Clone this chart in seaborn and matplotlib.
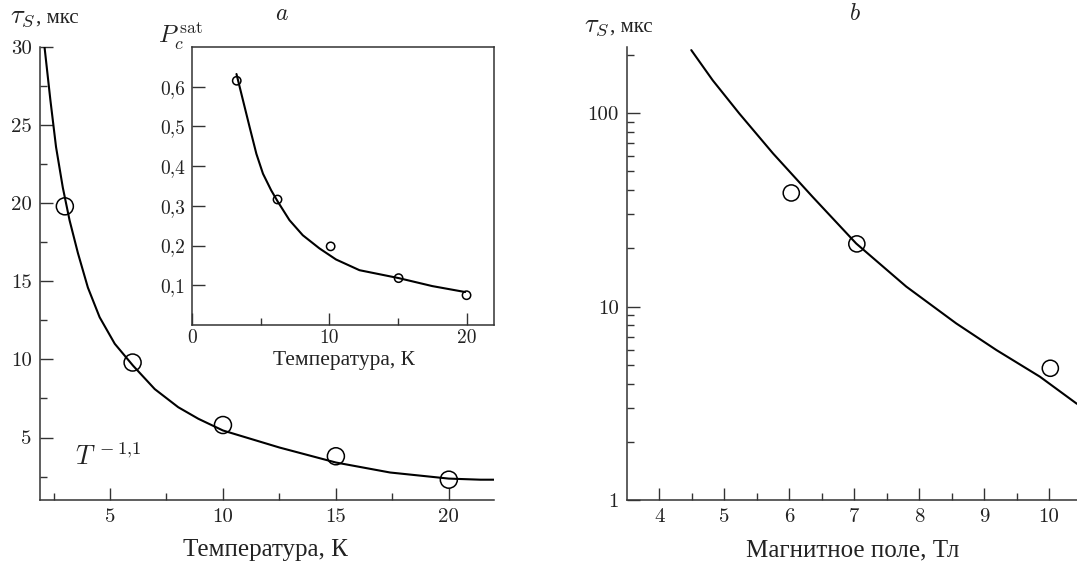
import matplotlib
matplotlib.use("Agg")
import matplotlib.pyplot as plt
import seaborn as sns
import numpy as np
import pandas as pd
from matplotlib.ticker import FixedLocator, NullFormatter

# ---------------- data ----------------
# panel a, main: spin relaxation time vs temperature
main_T = [3.0, 6.0, 10.0, 15.0, 20.0]
main_tau = [19.8, 9.8, 5.8, 3.8, 2.3]
fit_T = [2.10, 2.36, 2.61, 2.91, 3.21, 3.58, 4.02, 4.54, 5.21, 6.02, 6.98, 8.02, 8.91,
         10.0, 12.5, 15.0, 17.4, 20.0, 21.4, 22.0]
fit_tau = [30.0, 26.6, 23.6, 21.0, 18.9, 16.8, 14.6, 12.7, 11.0, 9.6, 8.1, 6.94, 6.2,
           5.45, 4.36, 3.4, 2.76, 2.37, 2.3, 2.3]

# panel a, inset: saturated polarisation vs temperature
ins_T = [3.26, 6.23, 10.1, 15.05, 20.0]
ins_P = [0.615, 0.316, 0.198, 0.118, 0.075]
ins_fit_T = [3.24, 3.72, 4.20, 4.69, 5.17, 5.77, 6.26, 7.1, 8.07, 9.28, 10.49, 12.2, 15.07, 17.5, 19.9]
ins_fit_P = [0.632, 0.565, 0.498, 0.431, 0.381, 0.339, 0.310, 0.264, 0.226, 0.193, 0.165,
             0.138, 0.118, 0.098, 0.083]

# panel b: relaxation time vs magnetic field
b_B = [6.03, 7.04, 10.02]
b_tau = [38.7, 21.1, 4.8]
b_fit_B = [4.49, 4.82, 5.23, 5.75, 6.36, 7.03, 7.80, 8.57, 9.19, 9.86, 10.42, 10.5]
b_fit_tau = [212, 148, 99.6, 61.9, 36.9, 21.2, 12.7, 8.19, 5.96, 4.34, 3.16, 3.05]

inset_yticks = [0.1, 0.2, 0.3, 0.4, 0.5, 0.6]
inset_ylabels = ["0,1", "0,2", "0,3", "0,4", "0,5", "0,6"]

# ---------------- style ----------------
sns.set_theme(style="ticks")
plt.rcParams['font.family'] = ['cmr10', 'Liberation Serif', 'DejaVu Serif']
plt.rcParams['mathtext.fontset'] = 'cm'
plt.rcParams['axes.linewidth'] = 1.1
plt.rcParams['axes.edgecolor'] = '#333333'
plt.rcParams['axes.unicode_minus'] = False

W, H = 1077, 568
fig = plt.figure(figsize=(W / 100, H / 100), dpi=100)
fig.patch.set_facecolor('white')

def box(l, t, r, b):
    return [l / W, 1 - b / H, (r - l) / W, (b - t) / H]

TXT = '#222222'
LW = 1.5

def style_ticks(ax, size=13.5, pad=5):
    ax.tick_params(which='both', direction='in', color='#333333', labelcolor=TXT,
                   labelsize=size, width=1.0, pad=pad)
    ax.tick_params(which='major', length=9)
    ax.tick_params(which='minor', length=5)

# ---- panel a main ----
ax1 = fig.add_axes(box(40, 47, 494, 500))
sns.lineplot(x=fit_T, y=fit_tau, ax=ax1, color='black', lw=LW, estimator=None, sort=False)
sns.scatterplot(x=main_T, y=main_tau, ax=ax1, s=150, marker='o', facecolor='none',
                edgecolor='black', linewidth=1.1, zorder=3)
ax1.set_xlim(1.9, 22)
ax1.set_ylim(1, 30)
ax1.set_xticks([5, 10, 15, 20])
ax1.set_xticklabels(['5', '10', '15', '20'])
ax1.xaxis.set_minor_locator(FixedLocator([2.5, 7.5, 12.5, 17.5]))
ax1.set_yticks([5, 10, 15, 20, 25, 30])
ax1.set_yticklabels(['5', '10', '15', '20', '25', '30'])
ax1.yaxis.set_minor_locator(FixedLocator([2.5, 7.5, 12.5, 17.5, 22.5, 27.5]))
for s in ['top', 'right']:
    ax1.spines[s].set_visible(False)
style_ticks(ax1, size=15, pad=6)
ax1.set_xlabel('')
ax1.set_ylabel('')

# ---- panel a inset ----
ax2 = fig.add_axes(box(192, 47, 494, 325))
sns.lineplot(x=ins_fit_T, y=ins_fit_P, ax=ax2, color='black', lw=LW, estimator=None, sort=False)
sns.scatterplot(x=ins_T, y=ins_P, ax=ax2, s=36, marker='o', facecolor='none',
                edgecolor='black', linewidth=1.1, zorder=3)
ax2.set_xlim(0, 22)
ax2.set_ylim(0, 0.7)
ax2.set_xticks([0, 10, 20])
ax2.set_xticklabels(['0', '10', '20'])
ax2.xaxis.set_minor_locator(FixedLocator([5, 15]))
ax2.set_yticks(inset_yticks)
ax2.set_yticklabels(inset_ylabels)
style_ticks(ax2, size=14, pad=5)
ax2.tick_params(axis='x', pad=3)
ax2.set_xlabel('')
ax2.set_ylabel('')

# ---- panel b ----
ax3 = fig.add_axes(box(627, 47, 1081.5, 500))
sns.lineplot(x=b_fit_B, y=b_fit_tau, ax=ax3, color='black', lw=LW, estimator=None, sort=False)
sns.scatterplot(x=b_B, y=b_tau, ax=ax3, s=135, marker='o', facecolor='none',
                edgecolor='black', linewidth=1.1, zorder=3)
ax3.set_yscale('log')
ax3.set_xlim(3.5, 10.5)
ax3.set_ylim(1, 220)
ax3.set_xticks([4, 5, 6, 7, 8, 9, 10])
ax3.set_xticklabels(['4', '5', '6', '7', '8', '9', '10'])
ax3.xaxis.set_minor_locator(FixedLocator([4.5, 5.5, 6.5, 7.5, 8.5, 9.5]))
ax3.yaxis.set_major_locator(FixedLocator([1, 10, 100]))
ax3.set_yticklabels(['1', '10', '100'])
minors = [m * d for d in (1, 10, 100) for m in range(2, 10) if m * d <= 220]
ax3.yaxis.set_minor_locator(FixedLocator(minors))
ax3.yaxis.set_minor_formatter(NullFormatter())
for s in ['top', 'right']:
    ax3.spines[s].set_visible(False)
style_ticks(ax3, size=15, pad=6)
ax3.set_xlabel('')
ax3.set_ylabel('')

# ---------------- texts ----------------
def ftext(x, y, s, **kw):
    fig.text(x / W, 1 - y / H, s, color=TXT, **kw)

# y-axis titles: math symbol + Cyrillic unit as two pieces on a shared baseline
ftext(10, 23, r'$\tau_S$', fontsize=19, ha='left', va='baseline')
ftext(36, 23, ', мкс', fontsize=15, ha='left', va='baseline', family=['Liberation Serif'])
ftext(584, 32, r'$\tau_S$', fontsize=19, ha='left', va='baseline')
ftext(610, 32, ', мкс', fontsize=15, ha='left', va='baseline', family=['Liberation Serif'])

ftext(282, 14, r'$a$', fontsize=17, ha='center', va='center')
ftext(855, 14, r'$b$', fontsize=17, ha='center', va='center')
ftext(158, 36, r'$P_c^{\,\mathrm{sat}}$', fontsize=18, ha='left', va='center')
ftext(75, 457, r'$T^{\,-1{,}1}$', fontsize=19, ha='left', va='center')

ftext(265, 550, 'Температура, К', fontsize=18, ha='center', va='center',
      family=['Liberation Serif'])
ftext(344, 361, 'Температура, К', fontsize=15.5, ha='center', va='center',
      family=['Liberation Serif'])
ftext(853, 550, 'Магнитное поле, Тл', fontsize=18, ha='center', va='center',
      family=['Liberation Serif'])

fig.savefig('out.png', dpi=100, facecolor='white')
